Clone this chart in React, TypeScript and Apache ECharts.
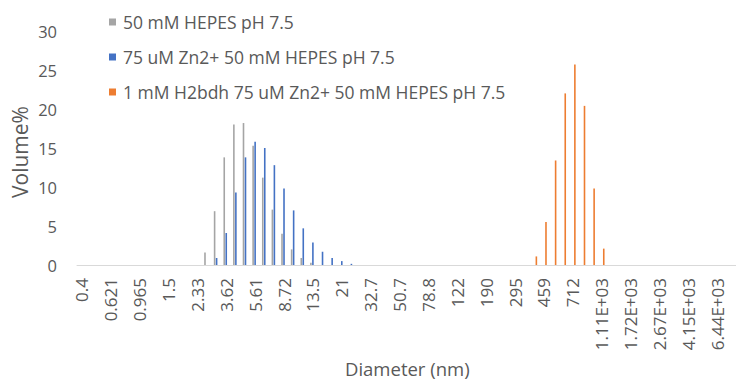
import React, { useEffect, useRef } from "react";
import * as echarts from "echarts";

const categories: string[] = [
  "0.4", "0.463", "0.536", "0.621", "0.72", "0.833", "0.965", "1.12", "1.29", "1.5",
  "1.74", "2.01", "2.33", "2.7", "3.12", "3.62", "4.19", "4.85", "5.61", "6.5",
  "7.53", "8.72", "10.1", "11.7", "13.5", "15.7", "18.2", "21", "24.4", "28.2",
  "32.7", "37.8", "43.8", "50.7", "58.8", "68.1", "78.8", "91.3", "106", "122",
  "142", "164", "190", "220", "255", "295", "342", "396", "459", "531",
  "615", "712", "825", "955", "1.11E+03", "1.28E+03", "1.48E+03", "1.72E+03", "1.99E+03", "2.30E+03",
  "2.67E+03", "3.09E+03", "3.58E+03", "4.15E+03", "4.80E+03", "5.56E+03", "6.44E+03", "7.46E+03", "8.63E+03", "1.00E+04",
];

const seriesNames: string[] = [
  "50 mM HEPES pH 7.5",
  "75 uM Zn2+ 50 mM HEPES pH 7.5",
  "1 mM H2bdh 75 uM Zn2+ 50 mM HEPES pH 7.5",
];

const hepesValues: number[] = [
  0, 0, 0, 0, 0, 0, 0, 0, 0, 0,
  0, 0, 0, 1.6, 6.9, 13.8, 18.0, 18.2, 15.3, 11.2,
  7.1, 4.0, 2.0, 0.9, 0.3, 0, 0, 0, 0, 0,
  0, 0, 0, 0, 0, 0, 0, 0, 0, 0,
  0, 0, 0, 0, 0, 0, 0, 0, 0, 0,
  0, 0, 0, 0, 0, 0, 0, 0, 0, 0,
  0, 0, 0, 0, 0, 0, 0, 0, 0, 0,
];

const znValues: number[] = [
  0, 0, 0, 0, 0, 0, 0, 0, 0, 0,
  0, 0, 0, 0, 0.9, 4.1, 9.3, 13.8, 15.8, 15.0,
  12.8, 9.8, 7.0, 4.7, 2.9, 1.7, 0.9, 0.5, 0.15, 0,
  0, 0, 0, 0, 0, 0, 0, 0, 0, 0,
  0, 0, 0, 0, 0, 0, 0, 0, 0, 0,
  0, 0, 0, 0, 0, 0, 0, 0, 0, 0,
  0, 0, 0, 0, 0, 0, 0, 0, 0, 0,
];

const bdhValues: number[] = [
  0, 0, 0, 0, 0, 0, 0, 0, 0, 0,
  0, 0, 0, 0, 0, 0, 0, 0, 0, 0,
  0, 0, 0, 0, 0, 0, 0, 0, 0, 0,
  0, 0, 0, 0, 0, 0, 0, 0, 0, 0,
  0, 0, 0, 0, 0, 0, 0, 1.1, 5.5, 13.4,
  22.0, 25.7, 20.4, 9.8, 2.1, 0, 0, 0, 0, 0,
  0, 0, 0, 0, 0, 0, 0, 0, 0, 0,
];

const colors = ["#A5A5A5", "#4472C4", "#ED7D31"];
const FONT = "'Open Sans', sans-serif";
const TEXT = "#595959";
const LABEL_STEP = 3;
const LAST_SHOWN_LABEL = 66;

export default function App() {
  const ref = useRef<HTMLDivElement>(null);
  useEffect(() => {
    if (!ref.current) return;
    const chart = echarts.init(ref.current, undefined, { renderer: "svg" });
    const values = [hepesValues, znValues, bdhValues];
    chart.setOption({
      animation: false,
      backgroundColor: "#ffffff",
      textStyle: { fontFamily: FONT },
      legend: {
        orient: "vertical",
        left: 104,
        top: 8,
        itemWidth: 7,
        itemHeight: 7,
        itemGap: 17,
        icon: "rect",
        data: seriesNames,
        textStyle: {
          fontSize: 17.5,
          color: TEXT,
          fontFamily: FONT,
          lineHeight: 18,
          padding: [0, 0, 0, 2],
        },
      },
      grid: { left: 77, right: 0, top: 31, bottom: 116 },
      xAxis: {
        type: "category",
        data: categories,
        axisTick: { show: false },
        axisLine: { lineStyle: { color: "#D9D9D9", width: 1 } },
        axisLabel: {
          interval: (index: number) => index % LABEL_STEP === 0 && index <= LAST_SHOWN_LABEL,
          rotate: 90,
          fontSize: 17,
          color: TEXT,
          margin: 13,
          fontFamily: FONT,
        },
        splitLine: { show: false },
      },
      yAxis: {
        type: "value",
        min: 0,
        max: 30,
        interval: 5,
        axisLine: { show: false },
        axisTick: { show: false },
        splitLine: { show: false },
        axisLabel: { fontSize: 16.5, color: TEXT, margin: 20, fontFamily: FONT },
      },
      graphic: [
        {
          type: "text",
          x: 20,
          y: 152,
          rotation: Math.PI / 2,
          style: {
            text: "Volume%",
            fontSize: 21,
            fill: TEXT,
            fontFamily: FONT,
            align: "center",
            verticalAlign: "middle",
          },
        },
        {
          type: "text",
          left: 345,
          top: 359,
          style: { text: "Diameter (nm)", fontSize: 18.5, fill: TEXT, fontFamily: FONT },
        },
      ],
      series: seriesNames.map((name, i) => ({
        name,
        type: "bar",
        data: values[i],
        barWidth: 1.6,
        barGap: "25%",
        itemStyle: { color: colors[i] },
      })),
    });
    return () => chart.dispose();
  }, []);
  return (
    <div
      style={{
        position: "absolute",
        left: 0,
        top: 0,
        width: 736,
        height: 381,
        overflow: "hidden",
      }}
    >
      <div ref={ref} style={{ width: 751, height: 381 }} />
    </div>
  );
}
